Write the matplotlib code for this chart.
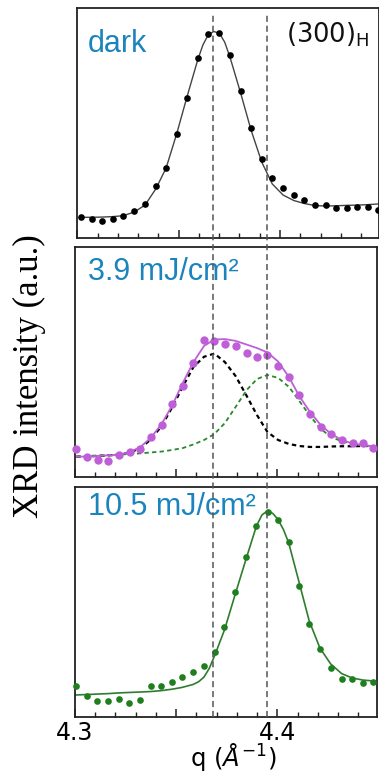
import matplotlib
matplotlib.use('Agg')
import matplotlib.pyplot as plt
from matplotlib.lines import Line2D
from matplotlib.ticker import FixedLocator, MultipleLocator, FuncFormatter
import matplotlib.transforms as mtransforms

# ---------------- data ----------------
q_dark = [4.3017, 4.3071, 4.3123, 4.3175, 4.3227, 4.3281, 4.3334, 4.3387, 4.3438, 4.3490,
          4.3541, 4.3594, 4.3646, 4.3701, 4.3753, 4.3806, 4.3857, 4.3910, 4.3962, 4.4015,
          4.4068, 4.4120, 4.4173, 4.4225, 4.4276, 4.4329, 4.4380, 4.4433, 4.4483]
I_dark = [9.3, 8.3, 7.4, 8.3, 9.6, 11.7, 14.8, 22.6, 30.4, 45.1,
          60.9, 78.1, 88.6, 89.0, 79.6, 63.8, 48.0, 34.5, 26.0, 21.6,
          18.7, 16.5, 14.3, 14.3, 12.9, 12.9, 13.3, 13.3, 12.2]

q_dark_fit = [4.3017, 4.3071, 4.3123, 4.3175, 4.3227, 4.3281, 4.3334, 4.3387, 4.3438, 4.3490,
              4.3541, 4.3594, 4.3620, 4.3646, 4.3673, 4.3701, 4.3727, 4.3753, 4.3806, 4.3857,
              4.3910, 4.3962, 4.4015, 4.4068, 4.4120, 4.4173, 4.4225, 4.4276, 4.4329, 4.4380,
              4.4433, 4.4483]
I_dark_fit = [9.0, 9.0, 9.1, 9.3, 9.7, 11.3, 14.3, 21.3, 30.4, 45.2,
              61.3, 77.4, 84.0, 88.3, 89.8, 89.0, 85.2, 78.7, 63.0, 47.0,
              33.0, 23.5, 18.7, 16.3, 15.0, 14.1, 13.9, 14.0, 14.2, 14.3,
              14.5, 14.8]

q_low = [4.3008, 4.3061, 4.3115, 4.3166, 4.3220, 4.3273, 4.3324, 4.3375, 4.3429, 4.3482,
         4.3533, 4.3586, 4.3638, 4.3689, 4.3741, 4.3794, 4.3849, 4.3899, 4.3951, 4.4004,
         4.4057, 4.4108, 4.4161, 4.4214, 4.4266, 4.4319, 4.4371, 4.4424, 4.4474]
I_low = [12.1, 9.0, 7.5, 6.9, 9.6, 11.1, 12.2, 17.7, 22.7, 31.8,
         39.8, 49.9, 59.5, 59.2, 58.0, 57.0, 54.2, 52.4, 53.0, 48.5,
         43.7, 35.7, 27.7, 22.0, 19.0, 16.1, 14.8, 15.0, 12.6]
I_low_fit = [9.0, 9.0, 9.3, 9.5, 9.9, 11.0, 13.2, 17.1, 23.2, 31.4,
             41.0, 50.1, 57.1, 59.9, 60.1, 59.3, 57.7, 56.2, 54.3, 50.3,
             43.6, 35.3, 28.4, 22.7, 18.8, 16.2, 14.7, 14.0, 13.5]
I_low_dark_comp = [9.0, 9.0, 9.3, 9.5, 9.9, 10.8, 12.7, 16.4, 22.3, 30.6,
                   39.4, 48.0, 52.4, 53.8, 50.1, 44.0, 35.3, 27.1, 19.7, 16.2,
                   14.5, 13.6, 13.2, 13.2, 13.4, 13.5, 13.5, 13.6, 13.6]
I_low_new_comp = [9.0, 9.3, 9.5, 9.7, 9.9, 10.1, 10.4, 10.8, 11.2, 11.9,
                  12.7, 14.3, 16.2, 18.8, 23.6, 30.6, 38.0, 42.7, 44.5, 43.2,
                  39.3, 33.2, 26.7, 21.0, 17.5, 15.6, 14.5, 13.8, 13.5]

q_high = [4.3006, 4.3059, 4.3112, 4.3165, 4.3217, 4.3269, 4.3324, 4.3375, 4.3427, 4.3479,
          4.3530, 4.3585, 4.3638, 4.3690, 4.3739, 4.3791, 4.3844, 4.3896, 4.3952, 4.4003,
          4.4056, 4.4108, 4.4157, 4.4210, 4.4263, 4.4317, 4.4369, 4.4421, 4.4473]
I_high = [13.7, 9.4, 7.3, 7.3, 7.9, 6.1, 7.7, 13.6, 13.6, 15.5,
          17.7, 19.6, 22.3, 28.5, 39.4, 54.6, 69.6, 83.2, 89.4, 85.8,
          76.3, 57.1, 40.6, 29.6, 21.6, 16.7, 16.7, 15.0, 15.5]
q_high_fit = [4.3006, 4.3059, 4.3112, 4.3165, 4.3217, 4.3269, 4.3324, 4.3375, 4.3427, 4.3479,
              4.3530, 4.3585, 4.3612, 4.3638, 4.3664, 4.3690, 4.3739, 4.3791, 4.3844, 4.3896,
              4.3924, 4.3952, 4.3978, 4.4003, 4.4030, 4.4056, 4.4108, 4.4157, 4.4210, 4.4263,
              4.4317, 4.4369, 4.4421, 4.4473]
I_high_fit = [9.7, 9.9, 10.1, 10.3, 10.6, 10.8, 11.0, 11.2, 11.6, 12.2,
              13.0, 14.3, 15.5, 17.5, 21.3, 26.7, 38.0, 53.2, 68.4, 83.0,
              88.0, 89.8, 88.6, 86.0, 81.6, 75.8, 58.4, 41.9, 30.1, 23.2,
              19.0, 17.1, 16.2, 15.8]

peak_positions = [4.3681, 4.3947]
panel_labels = ['dark', '3.9 mJ/cm²', '10.5 mJ/cm²']
reflection_label = r'(300)$_{\mathrm{H}}$'
x_major = [4.3, 4.35, 4.4]
x_labelled = [4.3, 4.4]

# ---------------- styling ----------------
W, H = 379, 778
fig = plt.figure(figsize=(W / 100, H / 100), dpi=100)

blue = '#1b84bd'
purple = '#bf5fd8'
green = '#1f7f1f'


def px_axes(left, top, right, bottom):
    return fig.add_axes([left / W, (H - bottom) / H, (right - left) / W, (bottom - top) / H])


ax1 = px_axes(77.3, 8, 379.3, 238)
ax2 = px_axes(74.7, 247.3, 376.7, 477.3)
ax3 = px_axes(74.7, 487.3, 376.7, 717.3)
axes = [ax1, ax2, ax3]

for ax in axes:
    ax.set_xlim(4.3, 4.449)
    ax.set_ylim(0, 100)
    ax.set_yticks([])
    for s in ax.spines.values():
        s.set_linewidth(1.3)
        s.set_color('#222222')
    ax.xaxis.set_major_locator(FixedLocator(x_major))
    ax.xaxis.set_minor_locator(MultipleLocator(0.01))
    ax.tick_params(axis='x', which='major', direction='in', length=6, width=1.1,
                   color='#222222', top=False, labelsize=17, pad=3)
    ax.tick_params(axis='x', which='minor', direction='in', length=3.5, width=1.0,
                   color='#222222', top=False)

for ax in (ax1, ax2):
    ax.tick_params(axis='x', which='major', labelbottom=False)

ax3.xaxis.set_major_formatter(FuncFormatter(
    lambda v, p: ('%.1f' % v) if any(abs(v - t) < 1e-6 for t in x_labelled) else ''))
ax3.set_xlabel(r'q ($Å^{-1}$)', fontsize=17.5)
ax3.xaxis.set_label_coords(0.525, -0.105)

# panel 1 : dark
ax1.plot(q_dark_fit, I_dark_fit, color='#444444', lw=1.0, zorder=2)
ax1.plot(q_dark, I_dark, 'o', color='black', ms=4.8, mec='none', zorder=3, clip_on=False)

# panel 2 : 3.9 mJ/cm2
ax2.plot(q_low, I_low_dark_comp, color='black', lw=1.6, ls=(0, (2.0, 1.6)), zorder=2)
ax2.plot(q_low, I_low_new_comp, color='#2a8a2a', lw=1.3, ls=(0, (2.4, 1.8)), zorder=2)
ax2.plot(q_low, I_low_fit, color=purple, lw=1.3, zorder=2)
ax2.plot(q_low, I_low, 'o', color=purple, ms=6.0, mec='none', zorder=3, clip_on=False)

# panel 3 : 10.5 mJ/cm2
ax3.plot(q_high_fit, I_high_fit, color='#2e7d2e', lw=1.2, zorder=2)
ax3.plot(q_high, I_high, 'o', color=green, ms=4.8, mec='none', zorder=3, clip_on=False)

# labels
label_pos = [(0.035, 0.809), (0.044, 0.858), (0.045, 0.880)]
for ax, lab, (lx, ly) in zip(axes, panel_labels, label_pos):
    ax.text(lx, ly, lab, transform=ax.transAxes, color=blue, fontsize=22,
            family='Liberation Sans', ha='left', va='baseline')

ax1.text(0.692, 0.852, reflection_label, transform=ax1.transAxes, fontsize=18.5,
         family='DejaVu Sans', ha='left', va='baseline', color='#111111')

fig.text(29 / W, (H - 376) / H, 'XRD intensity (a.u.)', rotation=90, fontsize=25,
         family='Liberation Serif', ha='center', va='center')

# vertical reference lines spanning all panels
trans = mtransforms.blended_transform_factory(ax3.transData, fig.transFigure)
for xp in peak_positions:
    fig.add_artist(Line2D([xp, xp], [(H - 717.3) / H, (H - 15) / H], transform=trans,
                          color='#555555', lw=1.1, ls=(0, (4, 2.5)), zorder=5))

fig.savefig('out.png', dpi=100)
